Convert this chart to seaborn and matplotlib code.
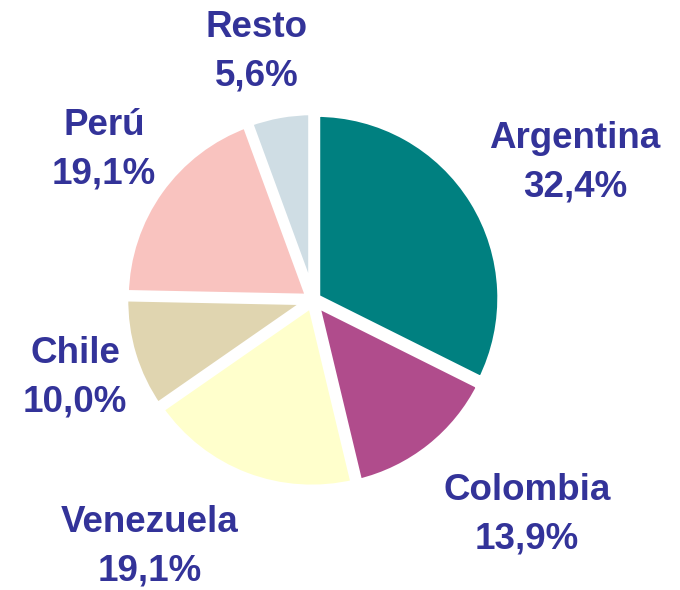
import matplotlib
matplotlib.use("Agg")
import matplotlib.pyplot as plt
import seaborn as sns

# data
countries = ["Argentina", "Colombia", "Venezuela", "Chile", "Perú", "Resto"]
shares = [32.4, 13.9, 19.1, 10.0, 19.1, 5.6]
colors = ["#008080", "#B04C8C", "#FFFFCC", "#E0D5B0", "#F9C3BF", "#CFDDE4"]

sns.set_theme(style="white")
plt.rcParams["font.family"] = ["Liberation Sans", "DejaVu Sans"]

W, H = 680, 590
CX, CY, R = 313, 300, 180   # pie centre and radius in pixels

fig = plt.figure(figsize=(W / 100, H / 100), dpi=100)
ax = fig.add_axes([0, 0, 1, 1])

wedges, _ = ax.pie(shares, colors=sns.color_palette(colors), startangle=90,
                   counterclock=False, radius=1.03,
                   explode=[0.02] * len(shares),
                   wedgeprops=dict(edgecolor="white", linewidth=6))

ax.set_xlim(-CX / R, (W - CX) / R)
ax.set_ylim(-(H - CY) / R, CY / R)
ax.set_aspect("equal")
ax.axis("off")

# label centres in pixels (x, y from top)
label_pos = [(575, 163), (527, 515), (150, 547), (75, 378), (104, 150), (257, 52)]
for name, val, (px, py) in zip(countries, shares, label_pos):
    txt = f"{name}\n{val:.1f}%".replace(".", ",")
    ax.text((px - CX) / R, (CY - py) / R, txt, ha="center", va="center",
            fontsize=26.5, fontweight="bold", color="#333399", linespacing=1.5)

fig.savefig("out.png", dpi=100)
